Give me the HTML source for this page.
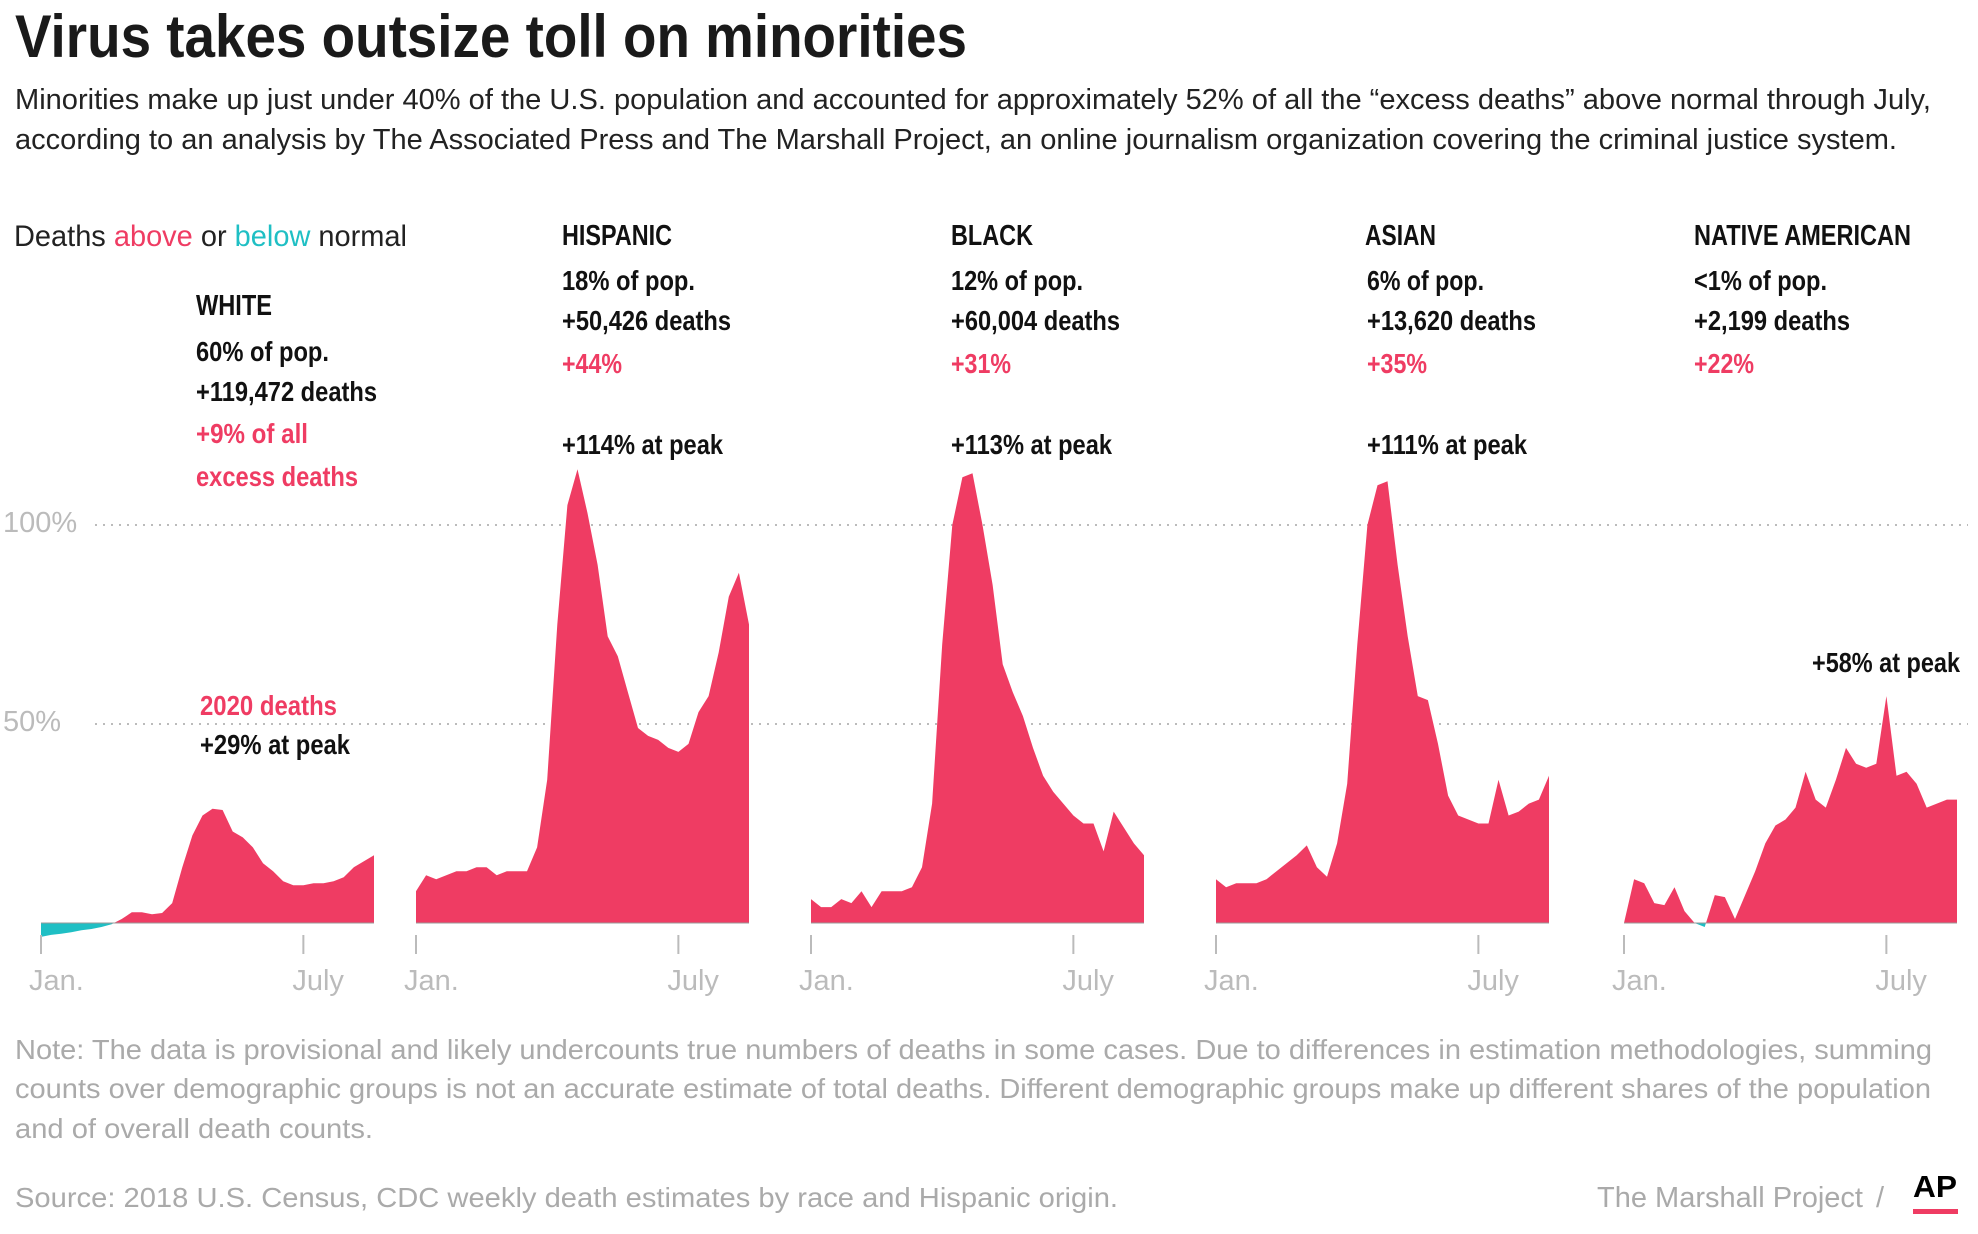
<!DOCTYPE html>
<html><head><meta charset="utf-8"><style>
html,body{margin:0;padding:0;background:#fff;}
svg{display:block;}
.t{font-family:"Liberation Sans Narrow","Liberation Sans",sans-serif;font-weight:bold;}
.r{font-family:"Liberation Sans",sans-serif;}
</style></head><body>
<svg id="chart" width="1978" height="1234" viewBox="0 0 1978 1234">
<text class="t" x="15" y="57" font-size="60" fill="#1a1a1a" textLength="952" lengthAdjust="spacingAndGlyphs">Virus takes outsize toll on minorities</text>
<text class="r" x="15" y="109" font-size="29" fill="#222" textLength="1916" lengthAdjust="spacingAndGlyphs">Minorities make up just under 40% of the U.S. population and accounted for approximately 52% of all the “excess deaths” above normal through July,</text>
<text class="r" x="15" y="149" font-size="29" fill="#222" textLength="1882" lengthAdjust="spacingAndGlyphs">according to an analysis by The Associated Press and The Marshall Project, an online journalism organization covering the criminal justice system.</text>
<text class="r" x="14" y="246" font-size="30" fill="#222" textLength="393" lengthAdjust="spacingAndGlyphs">Deaths <tspan fill="#ef3c63">above</tspan> or <tspan fill="#1fbfc4">below</tspan> normal</text>
<g id="grid"></g>
<g id="panels"></g>
<g id="labels"></g>
<text class="r" x="15" y="1059" font-size="28" fill="#aaa" textLength="1917" lengthAdjust="spacingAndGlyphs">Note: The data is provisional and likely undercounts true numbers of deaths in some cases. Due to differences in estimation methodologies, summing</text>
<text class="r" x="15" y="1098" font-size="28" fill="#aaa" textLength="1916" lengthAdjust="spacingAndGlyphs">counts over demographic groups is not an accurate estimate of total deaths. Different demographic groups make up different shares of the population</text>
<text class="r" x="15" y="1138" font-size="28" fill="#aaa" textLength="358" lengthAdjust="spacingAndGlyphs">and of overall death counts.</text>
<text class="r" x="15" y="1207" font-size="28" fill="#aaa" textLength="1103" lengthAdjust="spacingAndGlyphs">Source: 2018 U.S. Census, CDC weekly death estimates by race and Hispanic origin.</text>
<text class="r" x="1597" y="1207" font-size="29" fill="#aaa" textLength="266" lengthAdjust="spacingAndGlyphs">The Marshall Project</text>
<text class="r" x="1876" y="1207" font-size="29" fill="#aaa">/</text>
<text class="r" x="1913" y="1197" font-size="31" font-weight="bold" fill="#000" textLength="44" lengthAdjust="spacingAndGlyphs">AP</text>
<rect x="1913" y="1209" width="45" height="5" fill="#ef3c63"/>
</svg>
<script>
const groups = ["WHITE","HISPANIC","BLACK","ASIAN","NATIVE AMERICAN"];
const white = [-3.5,-3,-2.7,-2.3,-1.8,-1.5,-1,-0.3,1,2.7,2.7,2.2,2.5,5,14,22,27,28.7,28.4,23,21.5,19,15,13,10.5,9.5,9.5,10,10,10.5,11.5,14,15.5,17];
const hispanic = [8,12,11,12,13,13,14,14,12,13,13,13,19,36,75,105,114,103,90,72,67,58,49,47,46,44,43,45,53,57,68,82,88,75];
const black = [6,4,4,6,5,8,4,8,8,8,9,14,30,70,100,112,113,100,85,65,58,52,44,37,33,30,27,25,25,18,28,24,20,17];
const asian = [11,9,10,10,10,11,13,15,17,19.5,14,11.6,20,35,70,100,110,111,90,72,57,56,45,32,27,26,25,25,36,27,28,30,31,37];
const native = [0,11,10,5,4.5,9,3,0,-1,7,6.5,1,7,13,20,24.5,26,29,38,31,29,36,44,40,39,40,57,37,38,35,29,30,31,31];
const yTicks = [100,50];
const yTickLabels = ["100%","50%"];
const xTickWeeks = [0,26];
const xTickLabels = ["Jan.","July"];

const series = [white,hispanic,black,asian,native];
const panelX = [41,416,811,1216,1624];
const panelW = 333, baseY = 923, pxPerPct = 3.98;
const NS = "http://www.w3.org/2000/svg";
function y(v){return baseY - v*pxPerPct;}
function x(p,i,n){return panelX[p] + i*panelW/(n-1);}
function mk(tag,attrs,parent){const e=document.createElementNS(NS,tag);for(const k in attrs)e.setAttribute(k,attrs[k]);parent.appendChild(e);return e;}

const grid=document.getElementById('grid');
yTicks.forEach((t,k)=>{
  const l=mk('line',{x1:95,x2:1968,y1:y(t),y2:y(t),stroke:'#bbb','stroke-width':2,'stroke-dasharray':'2 6'},grid);
  
  
  const tx=mk('text',{x:3,y:y(t)+7,'font-size':29,fill:'#bbb','class':'r'},grid);
  tx.textContent=yTickLabels[k];
  
  
});

const panels=document.getElementById('panels');
series.forEach((d,p)=>{
  const n=d.length;
  const g=mk('g',{},panels);
  
  
  const cid='clip'+p;
  const defs=mk('defs',{},g);
  const cp1=mk('clipPath',{id:cid+'a'},defs); mk('rect',{x:0,y:0,width:1978,height:baseY},cp1);
  const cp2=mk('clipPath',{id:cid+'b'},defs); mk('rect',{x:0,y:baseY,width:1978,height:300},cp2);
  let pts='M'+x(p,0,n)+','+baseY;
  d.forEach((v,i)=>{pts+=' L'+x(p,i,n).toFixed(1)+','+y(v).toFixed(1);});
  pts+=' L'+x(p,n-1,n)+','+baseY+' Z';
  const a=mk('path',{d:pts,fill:'#ef3c63','clip-path':'url(#'+cid+'a)'},g);
  
  
  const b=mk('path',{d:pts,fill:'#1fbfc4','clip-path':'url(#'+cid+'b)'},g);
  
  
  const z=mk('line',{x1:panelX[p],x2:panelX[p]+panelW,y1:baseY,y2:baseY,stroke:'#999','stroke-width':1},g);
  
  
  xTickWeeks.forEach((w,k)=>{
    const tx0=x(p,w,n);
    const tk=mk('line',{x1:tx0,x2:tx0,y1:935,y2:954,stroke:'#bbb','stroke-width':2},g);
    
    
    const lb=mk('text',{x:tx0-(k==0?12:11),y:990,'font-size':29,fill:'#bbb','class':'r'},g);
    lb.textContent=xTickLabels[k];
    
    
  });
});

const labels=[
 [196,315,'WHITE','#111',76,29],[196,361,'60% of pop.','#111',133,28],[196,401,'+119,472 deaths','#111',181,28],[196,443,'+9% of all','#ef3c63',112,28],[196,486,'excess deaths','#ef3c63',162,28],
 [200,715,'2020 deaths','#ef3c63',137,28],[200,754,'+29% at peak','#111',150,28],
 [562,245,'HISPANIC','#111',110,29],[562,290,'18% of pop.','#111',133,28],[562,330,'+50,426 deaths','#111',169,28],[562,373,'+44%','#ef3c63',60,28],[562,454,'+114% at peak','#111',161,28],
 [951,245,'BLACK','#111',82,29],[951,290,'12% of pop.','#111',132,28],[951,330,'+60,004 deaths','#111',169,28],[951,373,'+31%','#ef3c63',60,28],[951,454,'+113% at peak','#111',161,28],
 [1365,245,'ASIAN','#111',71,29],[1367,290,'6% of pop.','#111',117,28],[1367,330,'+13,620 deaths','#111',169,28],[1367,373,'+35%','#ef3c63',60,28],[1367,454,'+111% at peak','#111',160,28],
 [1694,245,'NATIVE AMERICAN','#111',217,29],[1694,290,'<1% of pop.','#111',133,28],[1694,330,'+2,199 deaths','#111',156,28],[1694,373,'+22%','#ef3c63',60,28],
 [1812,672,'+58% at peak','#111',148,28]
];
const lg=document.getElementById('labels');
labels.forEach((L,i)=>{
  const t=mk('text',{x:L[0],y:L[1],fill:L[3],'font-size':L[5],'class':'t',textLength:L[4],lengthAdjust:'spacingAndGlyphs'},lg);
  t.textContent=L[2];
  
  
});
</script>
</body></html>
